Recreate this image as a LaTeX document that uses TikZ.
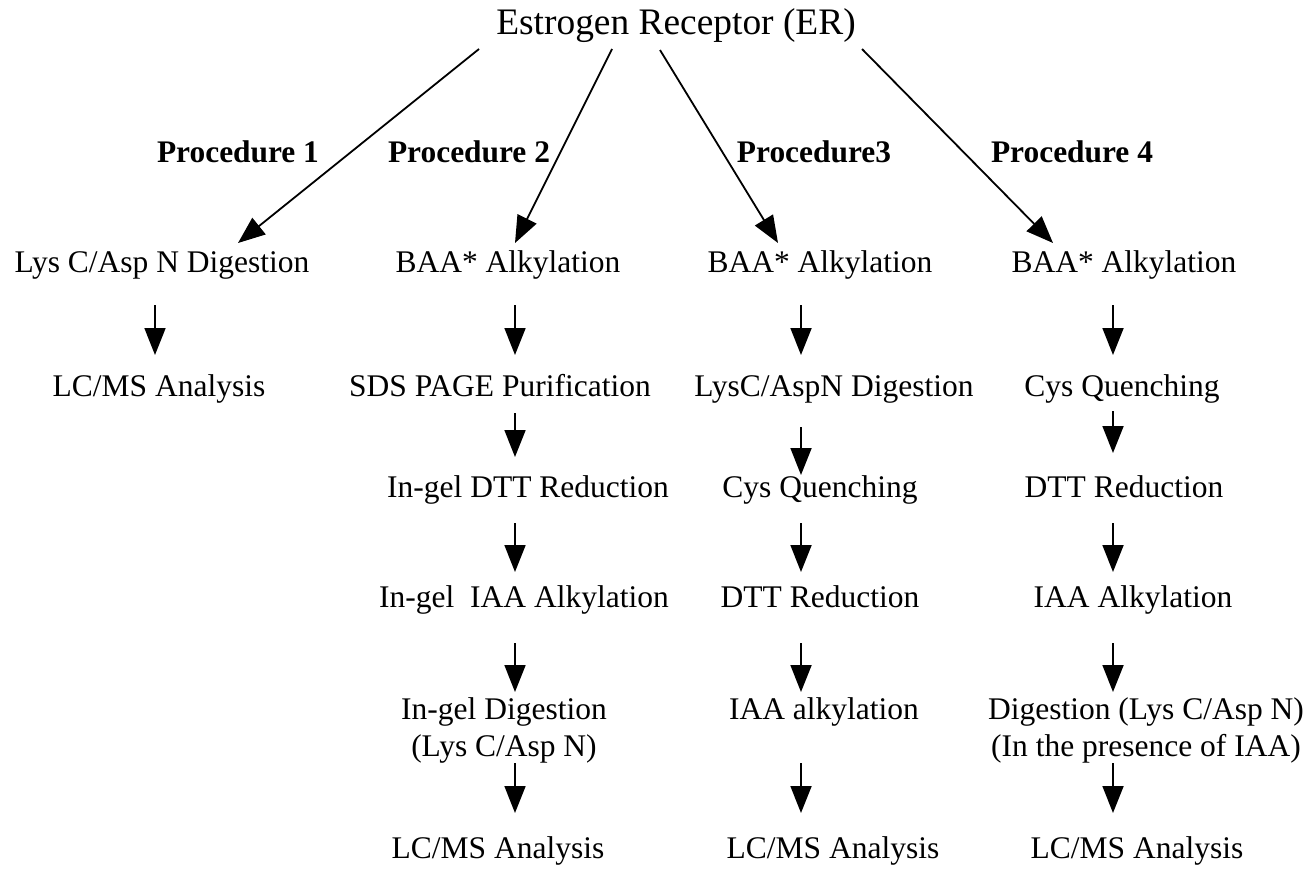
\documentclass[tikz,border=0pt]{standalone}
\usepackage{fontspec}
\setmainfont{Liberation Serif}
\usetikzlibrary{arrows.meta,calc}
\begin{document}
\begin{tikzpicture}[x=1pt,y=-1pt,
  txt/.style={inner sep=0pt,anchor=base,font=\fontsize{31.5}{37}\selectfont},
  ttl/.style={inner sep=0pt,anchor=base,font=\fontsize{37.4}{40}\selectfont},
  proc/.style={inner sep=0pt,anchor=base,font=\fontsize{31.4}{33}\selectfont\bfseries},
  arr/.style={line width=1.8pt,-{Triangle[width=21pt,length=27pt]}}]
\useasboundingbox (0,0) rectangle (1314,875);
\coordinate (colA) at (155,0);
\coordinate (colB) at (515,0);
\coordinate (colC) at (801,0);
\coordinate (colD) at (1113,0);

\node[ttl] (er) at (676,35) {Estrogen Receptor (ER)};

\node[proc] (pr1) at (238,162) {Procedure 1};
\node[proc] (pr2) at (469,162) {Procedure 2};
\node[proc] (pr3) at (814,162) {Procedure3};
\node[proc] (pr4) at (1072,162) {Procedure 4};

% Procedure 1
\node[txt] (a1) at (162,272) {Lys C/Asp N Digestion};
\node[txt] (a2) at (159,396) {LC/MS Analysis};
% Procedure 2
\node[txt] (b1) at (508,272) {BAA* Alkylation};
\node[txt] (b2) at (500,396) {SDS PAGE Purification};
\node[txt] (b3) at (528,497) {In-gel DTT Reduction};
\node[txt] (b4) at (524,607) {In-gel\ \ IAA Alkylation};
\node[txt] (b5) at (504,719) {\begin{tabular}[t]{@{}c@{}}In-gel Digestion\\(Lys C/Asp N)\end{tabular}};
\node[txt] (b6) at (498,858) {LC/MS Analysis};
% Procedure 3
\node[txt] (c1) at (820,272) {BAA* Alkylation};
\node[txt] (c2) at (834,396) {LysC/AspN Digestion};
\node[txt] (c3) at (820,497) {Cys Quenching};
\node[txt] (c4) at (820,607) {DTT Reduction};
\node[txt] (c5) at (824,719) {IAA alkylation};
\node[txt] (c6) at (833,858) {LC/MS Analysis};
% Procedure 4
\node[txt] (d1) at (1124,272) {BAA* Alkylation};
\node[txt] (d2) at (1122,396) {Cys Quenching};
\node[txt] (d3) at (1124,497) {DTT Reduction};
\node[txt] (d4) at (1133,607) {IAA Alkylation};
\node[txt] (d5) at (1146,719) {\begin{tabular}[t]{@{}c@{}}Digestion (Lys C/Asp N)\\(In the presence of IAA)\end{tabular}};
\node[txt] (d6) at (1137,858) {LC/MS Analysis};

% diagonal arrows
\draw[arr] ($(er.base)+(-197,14)$) -- ($(a1.base)+(76,-29)$);
\draw[arr] ($(er.base)+(-64,14)$) -- ($(b1.base)+(7,-29)$);
\draw[arr] ($(er.base)+(-16,15)$) -- ($(c1.base)+(-42,-29)$);
\draw[arr] ($(er.base)+(186,14)$) -- ($(d1.base)+(-71,-29)$);

% procedure 1
\draw[arr] ($(a1.base -| colA)+(0,33)$) -- ($(a2.base -| colA)+(0,-41)$);
% procedure 2
\draw[arr] ($(b1.base -| colB)+(0,33)$) -- ($(b2.base -| colB)+(0,-41)$);
\draw[arr] ($(b2.base -| colB)+(0,17)$) -- ($(b3.base -| colB)+(0,-40)$);
\draw[arr] ($(b3.base -| colB)+(0,26)$) -- ($(b4.base -| colB)+(0,-35)$);
\draw[arr] ($(b4.base -| colB)+(0,36)$) -- ($(b5.base -| colB)+(0,-27)$);
\draw[arr] ($(b5.base -| colB)+(0,44)$) -- ($(b6.base -| colB)+(0,-45)$);
% procedure 3
\draw[arr] ($(c1.base -| colC)+(0,33)$) -- ($(c2.base -| colC)+(0,-41)$);
\draw[arr] ($(c2.base -| colC)+(0,31)$) -- ($(c3.base -| colC)+(0,-22)$);
\draw[arr] ($(c3.base -| colC)+(0,26)$) -- ($(c4.base -| colC)+(0,-35)$);
\draw[arr] ($(c4.base -| colC)+(0,36)$) -- ($(c5.base -| colC)+(0,-27)$);
\draw[arr] ($(c5.base -| colC)+(0,44)$) -- ($(c6.base -| colC)+(0,-45)$);
% procedure 4
\draw[arr] ($(d1.base -| colD)+(0,33)$) -- ($(d2.base -| colD)+(0,-41)$);
\draw[arr] ($(d2.base -| colD)+(0,15)$) -- ($(d3.base -| colD)+(0,-44)$);
\draw[arr] ($(d3.base -| colD)+(0,26)$) -- ($(d4.base -| colD)+(0,-35)$);
\draw[arr] ($(d4.base -| colD)+(0,36)$) -- ($(d5.base -| colD)+(0,-27)$);
\draw[arr] ($(d5.base -| colD)+(0,44)$) -- ($(d6.base -| colD)+(0,-45)$);
\end{tikzpicture}
\end{document}
